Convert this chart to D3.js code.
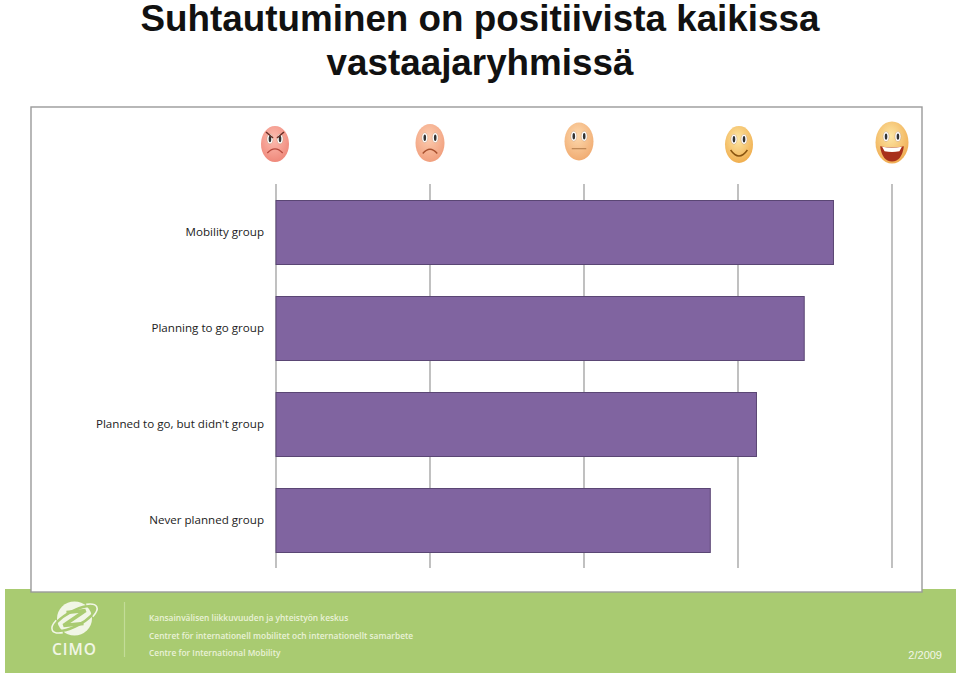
<!DOCTYPE html>
<html><head><meta charset="utf-8">
<script src="https://cdnjs.cloudflare.com/ajax/libs/d3/7.8.5/d3.min.js"></script>
<style>
html,body{margin:0;padding:0;background:#fff;overflow:hidden}
svg{display:block}
</style></head><body>
<svg id="c" width="959" height="675"></svg>
<script>
const categories=["Mobility group","Planning to go group","Planned to go, but didn't group","Never planned group"];
const values=[4.62,4.43,4.12,3.82];
const ticks=[1,2,3,4,5];
const titleLines=["Suhtautuminen on positiivista kaikissa","vastaajaryhmissä"];
const footerLines=["Kansainvälisen liikkuvuuden ja yhteistyön keskus","Centret för internationell mobilitet och internationellt samarbete","Centre for International Mobility"];
const faces=[
 {v:1,dx:-1,cy:144,rx:14,ry:18,c0:"#fdbcb0",c1:"#ee8577",mood:"angry"},
 {v:2,dx:0,cy:143,rx:14.5,ry:19,c0:"#fdcdb0",c1:"#f09c7a",mood:"sad"},
 {v:3,dx:-5,cy:141.5,rx:14.5,ry:19,c0:"#fdd9ae",c1:"#f0a96e",mood:"flat"},
 {v:4,dx:1,cy:144.5,rx:14,ry:18.5,c0:"#fde7a5",c1:"#efaa48",mood:"smile"},
 {v:5,dx:0,cy:142.5,rx:16.5,ry:21,c0:"#fde7a5",c1:"#efa84c",mood:"laugh"}
];

const svg=d3.select("#c");
const defs=svg.append("defs");
faces.forEach((f,i)=>{
  const g=defs.append("radialGradient").attr("id","fg"+i).attr("cx","45%").attr("cy","35%").attr("r","70%");
  g.append("stop").attr("offset","0%").attr("stop-color",f.c0);
  g.append("stop").attr("offset","100%").attr("stop-color",f.c1);
});

const x=d3.scaleLinear().domain([1,5]).range([276,892]);
const y=d3.scaleBand().domain(categories).range([184,568]).paddingInner(1/3).paddingOuter(1/6);

// title
svg.append("g").selectAll("text").data(titleLines).join("text")
  .attr("x",480).attr("y",(d,i)=>31+i*44)
  .attr("text-anchor","middle")
  .attr("font-family","Liberation Sans, Arial, sans-serif")
  .attr("font-weight","bold").attr("font-size",36.8).attr("fill","#111")
  .text(d=>d);

// footer band
svg.append("rect").attr("x",5).attr("y",589).attr("width",951).attr("height",84).attr("fill","#a9cb71");

// panel
svg.append("rect").attr("x",31).attr("y",107).attr("width",891).attr("height",485)
  .attr("fill","#fff").attr("stroke","#9a9a9a").attr("stroke-width",1.4);

// gridlines
svg.append("g").attr("transform","translate(0,184)")
  .call(d3.axisBottom(x).tickValues(ticks).tickSize(384).tickFormat("").offset(0))
  .call(g=>g.select(".domain").remove())
  .call(g=>g.selectAll("line").attr("stroke","#a6a6a6").attr("stroke-width",1.4));

// bars
svg.append("g").selectAll("rect").data(categories).join("rect")
  .attr("x",x(1)).attr("y",d=>y(d)+.5)
  .attr("width",(d,i)=>x(values[i])-x(1)).attr("height",y.bandwidth())
  .attr("fill","#8064a0").attr("stroke","#5a4674").attr("stroke-width",1);

// category labels
svg.append("g").selectAll("text").data(categories).join("text")
  .attr("x",264).attr("y",d=>y(d)+y.bandwidth()/2+4)
  .attr("text-anchor","end")
  .attr("font-family","Open Sans, sans-serif")
  .attr("font-size",11.6).attr("fill","#222")
  .text(d=>d);

// faces
faces.forEach((f,i)=>{
  const g=svg.append("g").attr("transform",`translate(${x(f.v)+f.dx},${f.cy})`);
  g.append("ellipse").attr("rx",f.rx).attr("ry",f.ry).attr("fill",`url(#fg${i})`);
  const ex=f.rx*0.36, ey=-f.ry*0.28;
  [-1,1].forEach(s=>{
    g.append("ellipse").attr("cx",s*ex).attr("cy",ey).attr("rx",3).attr("ry",5).attr("fill","#fff").attr("stroke","#b98a6a").attr("stroke-width",.4);
    g.append("ellipse").attr("cx",s*ex).attr("cy",ey).attr("rx",1.3).attr("ry",3.2).attr("fill","#333");
  });
  const r=f.rx;
  if(f.mood==="angry"){
    [-1,1].forEach(s=>g.append("line").attr("x1",s*2).attr("y1",-6).attr("x2",s*9).attr("y2",-12).attr("stroke","#6b2e26").attr("stroke-width",1.6));
    g.append("path").attr("d",`M${-.55*r},${.5*f.ry}Q0,${.05*f.ry} ${.55*r},${.5*f.ry}`).attr("fill","none").attr("stroke","#b5483c").attr("stroke-width",1.2);
  } else if(f.mood==="sad"){
    g.append("path").attr("d",`M${-.5*r},${.55*f.ry}Q0,${.1*f.ry} ${.5*r},${.55*f.ry}`).attr("fill","none").attr("stroke","#a8502e").attr("stroke-width",1.4);
  } else if(f.mood==="flat"){
    g.append("line").attr("x1",-.5*r).attr("x2",.5*r).attr("y1",.38*f.ry).attr("y2",.38*f.ry).attr("stroke","#a8703f").attr("stroke-width",.9);
  } else if(f.mood==="smile"){
    g.append("path").attr("d",`M${-.6*r},${.3*f.ry}Q0,${.95*f.ry} ${.6*r},${.3*f.ry}`).attr("fill","none").attr("stroke","#8a5510").attr("stroke-width",1.5);
  } else {
    g.append("path").attr("d",`M${-.72*r},${.18*f.ry}Q0,${.3*f.ry} ${.72*r},${.18*f.ry}Q${.6*r},${.9*f.ry} 0,${.9*f.ry}Q${-.6*r},${.9*f.ry} ${-.72*r},${.18*f.ry}Z`).attr("fill","#a8301c");
    g.append("path").attr("d",`M${-.6*r},${.2*f.ry}Q0,${.3*f.ry} ${.6*r},${.2*f.ry}L${.45*r},${.42*f.ry}Q0,${.48*f.ry} ${-.45*r},${.42*f.ry}Z`).attr("fill","#fff");
  }
});

// logo
const logo=svg.append("g").attr("transform","translate(74.5,618.5)");
logo.append("ellipse").attr("rx",17.5).attr("ry",17).attr("fill","#f1f6e6");
logo.append("ellipse").attr("rx",23).attr("ry",7.5).attr("transform","rotate(-28)").attr("fill","none").attr("stroke","#a9cb71").attr("stroke-width",2.6);
logo.append("path").attr("transform","rotate(-28)")
  .attr("d","M-17,-7A25,9.5 0 0 0 -17,7M17,-7A25,9.5 0 0 1 17,7")
  .attr("fill","none").attr("stroke","#f1f6e6").attr("stroke-width",1.6);
logo.append("path").attr("d","M-8,-6L11,-8L-11,7L9,5").attr("fill","none").attr("stroke","#a9cb71").attr("stroke-width",3.4);
svg.append("text").attr("x",74.5).attr("y",655).attr("text-anchor","middle")
  .attr("font-family","Open Sans, sans-serif").attr("font-weight",600).attr("font-size",15.5).attr("letter-spacing",1).attr("fill","#f1f6e6").text("CIMO");
svg.append("line").attr("x1",124.5).attr("x2",124.5).attr("y1",602).attr("y2",657).attr("stroke","#c3dc98").attr("stroke-width",1.2);

svg.append("g").attr("transform","translate(149,0) scale(0.875,1)").selectAll("text").data(footerLines).join("text")
  .attr("x",0).attr("y",(d,i)=>621+i*17.7)
  .attr("font-family","Open Sans, sans-serif").attr("font-weight",600)
  .attr("font-size",9.6).attr("fill","#e9f2d8").text(d=>d);

svg.append("text").attr("x",942).attr("y",659).attr("text-anchor","end")
  .attr("font-family","Liberation Sans, Arial, sans-serif").attr("font-size",11).attr("fill","#f3f7e8").text("2/2009");
</script>
</body></html>
